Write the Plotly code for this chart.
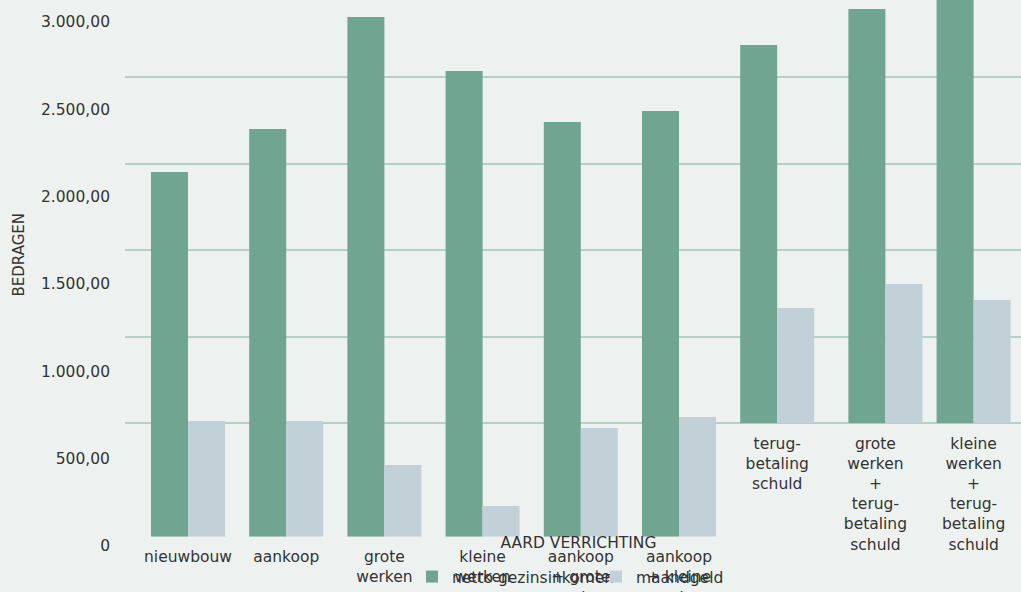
import plotly.graph_objects as go

# --- data -------------------------------------------------------------
categories = [
    "nieuwbouw", "aankoop", "grote werken", "kleine werken",
    "aankoop + grote werken", "aankoop + kleine werken",
    "terug-betaling schuld", "grote werken + terug-betaling schuld",
    "kleine werken + terug-betaling schuld",
]
tick_labels = [
    "nieuwbouw", "aankoop", "grote<br>werken", "kleine<br>werken",
    "aankoop<br>+ grote<br>werken", "aankoop<br>+ kleine<br>werken",
    "terug-<br>betaling<br>schuld",
    "grote<br>werken<br>+<br>terug-<br>betaling<br>schuld",
    "kleine<br>werken<br>+<br>terug-<br>betaling<br>schuld",
]
netto_gezinsinkomen = [2088, 2334, 2975, 2666, 2374, 2437, 2166, 2372, 2520]
maandgeld = [662, 662, 410, 176, 622, 685, 660, 797, 706]

y_tick_values = [0, 500, 1000, 1500, 2000, 2500, 3000]
y_tick_labels = ["0", "500,00", "1.000,00", "1.500,00", "2.000,00",
                 "2.500,00", "3.000,00"]
grid_values = [500, 1000, 1500, 2000, 2500]

# --- styling ----------------------------------------------------------
BG = "#edf2f0"
GREEN = "#70a592"
GREY = "#c2d1d8"
GRID = "#b5d0c5"
TEXT = "#333333"
FONT = "DejaVu Sans"
FS = 15.5

# --- geometry (pixels) ------------------------------------------------
W, H = 1021, 592
ML, MB = 125, 46
PW, PH = W - ML, H - MB
SCALE = 524 / 3000          # px per unit on the value axes
GRID_SCALE = 86.5 / 500      # px per unit on the grid axis
FIRST_CENTER, STEP = 188 - ML, 98.2


def cat_range(left_px, shift_px=0.0):
    """Category-axis range whose slot 0 sits at FIRST_CENTER (+ shift)."""
    lo = -(FIRST_CENTER + shift_px - left_px) / STEP
    return [lo, lo + (PW - left_px) / STEP]


def y_domain(base_px):
    return [(PH - base_px) / PH, 1]


main_idx = [0, 1, 2, 3, 4, 5]
tail_idx = [6, 8]
shifted_idx = [7]


def pick(values, idx):
    return [values[i] for i in idx]


fig = go.Figure()

# empty carriers so the label axis (y) and the grid axis (y2) get drawn,
# underneath the bar subplots
for ya in ("y", "y2"):
    fig.add_trace(go.Scatter(x=[], y=[], xaxis="x", yaxis=ya,
                             showlegend=False, hoverinfo="skip"))

groups = [
    (main_idx, "x", "y3", True),
    (tail_idx, "x2", "y4", False),
    (shifted_idx, "x3", "y4", False),
]
for idx, xa, ya, legend in groups:
    fig.add_trace(go.Bar(
        x=pick(categories, idx), y=pick(netto_gezinsinkomen, idx),
        name="netto gezinsinkomen", marker_color=GREEN, marker_line_width=0,
        xaxis=xa, yaxis=ya, showlegend=legend, legendgroup="netto",
    ))
    fig.add_trace(go.Bar(
        x=pick(categories, idx), y=pick(maandgeld, idx),
        name="maandgeld", marker_color=GREY, marker_line_width=0,
        xaxis=xa, yaxis=ya, showlegend=legend, legendgroup="maand",
    ))

tick_font = dict(family=FONT, size=FS, color=TEXT)
cat_axis = dict(type="category", categoryorder="array",
                categoryarray=categories, showgrid=False, zeroline=False,
                showline=False, ticks="", automargin=False,
                tickfont=tick_font)

TITLE_SHIFT = 11  # x-title axis starts a little right of the plot edge

fig.update_layout(
    width=W, height=H,
    margin=dict(l=ML, r=0, t=0, b=MB, pad=0, autoexpand=False),
    paper_bgcolor=BG, plot_bgcolor="rgba(0,0,0,0)",
    font=dict(family=FONT, size=FS, color=TEXT),
    barmode="group", bargap=0.2464, bargroupgap=0,
    xaxis=dict(cat_axis, domain=[0, 1], range=cat_range(0), anchor="y3",
               tickvals=pick(categories, main_idx),
               ticktext=pick(tick_labels, main_idx), ticklabelstandoff=9),
    xaxis2=dict(cat_axis, domain=[0, 1], range=cat_range(0), anchor="y4",
                tickvals=pick(categories, [6, 7, 8]),
                ticktext=pick(tick_labels, [6, 7, 8]), ticklabelstandoff=9),
    xaxis3=dict(cat_axis, domain=[TITLE_SHIFT / PW, 1],
                range=cat_range(TITLE_SHIFT, 10),
                anchor="y3", showticklabels=False,
                title=dict(text="AARD VERRICHTING", standoff=0,
                           font=dict(family=FONT, size=FS, color=TEXT))),
    # value labels
    yaxis=dict(domain=[0, 1], range=[0, PH / SCALE], anchor="free",
               position=0, tickvals=y_tick_values, ticktext=y_tick_labels,
               showgrid=False, zeroline=False, showline=False, ticks="",
               automargin=False, tickfont=tick_font, ticklabelstandoff=15),
    # horizontal grid + axis title
    yaxis2=dict(domain=y_domain(509.5), range=[0, 509.5 / GRID_SCALE],
                anchor="free", position=0, tickvals=grid_values,
                showticklabels=False, showgrid=True, gridcolor=GRID,
                gridwidth=1.5, zeroline=False, showline=False, ticks="",
                automargin=False,
                title=dict(text="BEDRAGEN", standoff=95,
                           font=dict(family=FONT, size=15, color=TEXT))),
    # bar value axes
    yaxis3=dict(domain=y_domain(536.7), range=[0, 536.7 / SCALE],
                anchor="x", visible=False),
    yaxis4=dict(domain=y_domain(423.3), range=[0, 423.3 / SCALE],
                anchor="x2", visible=False),
    legend=dict(orientation="h", xanchor="center", yanchor="middle",
                x=(596 - ML) / PW, y=(PH - 577) / PH,
                bgcolor="rgba(0,0,0,0)", font=dict(family=FONT, size=FS,
                                                  color=TEXT),
                itemwidth=30, tracegroupgap=0, entrywidth=139,
                entrywidthmode="pixels"),
    showlegend=True,
)

fig.write_html("out.html")
